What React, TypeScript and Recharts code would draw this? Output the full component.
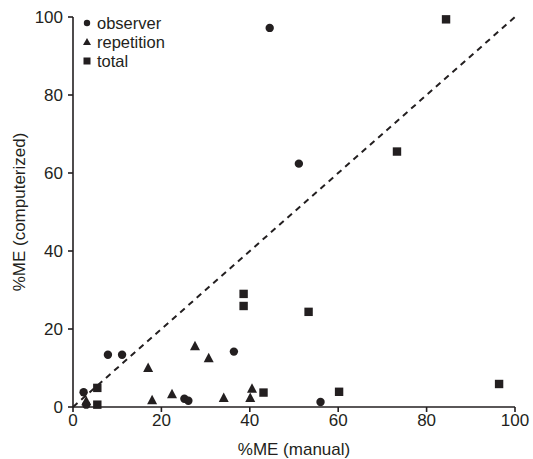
import React from "react";
import {
  ScatterChart,
  Scatter,
  XAxis,
  YAxis,
  ReferenceLine,
} from "recharts";

// values: [%ME manual, %ME computerized]
const observerX = [2.4, 3.0, 7.9, 11.1, 25.2, 26.1, 36.4, 44.5, 51.1, 56.0];
const observerY = [3.8, 0.6, 13.4, 13.4, 2.1, 1.6, 14.2, 97.2, 62.4, 1.3];

const repetitionX = [3.0, 17.0, 17.9, 22.4, 27.6, 30.7, 34.1, 40.1, 40.5];
const repetitionY = [1.5, 10.0, 1.7, 3.3, 15.6, 12.5, 2.3, 2.3, 4.7];

const totalX = [5.5, 5.5, 38.6, 38.6, 43.1, 53.3, 60.2, 73.3, 84.4, 96.4];
const totalY = [0.6, 4.9, 25.9, 29.0, 3.7, 24.4, 3.9, 65.5, 99.4, 5.9];

const ticks = [0, 20, 40, 60, 80, 100];
const seriesNames = ["observer", "repetition", "total"];

const ink = "#231f20";
const font = "'Liberation Sans', Arial, sans-serif";

const toPoints = (xs: number[], ys: number[]) =>
  xs.map((x, i) => ({ x, y: ys[i] }));

const CircleDot = (p: any) => <circle cx={p.cx} cy={p.cy} r={4.2} fill={ink} />;
const TriDot = (p: any) => (
  <polygon
    points={`${p.cx},${p.cy - 5.5} ${p.cx - 5},${p.cy + 4} ${p.cx + 5},${p.cy + 4}`}
    fill={ink}
  />
);
const SquareDot = (p: any) => (
  <rect x={p.cx - 4.2} y={p.cy - 4.2} width={8.4} height={8.4} fill={ink} />
);

// legend drawn as an overlay so it doesn't eat into the plot area
const LegendBox = () => (
  <svg
    width={160}
    height={70}
    style={{ position: "absolute", left: 80, top: 10 }}
  >
    {seriesNames.map((name, i) => {
      const cy = 13 + i * 19;
      return (
        <g key={name}>
          {i === 0 && <circle cx={7} cy={cy} r={3.2} fill={ink} />}
          {i === 1 && <polygon points={`7,${cy - 4} 3,${cy + 3} 11,${cy + 3}`} fill={ink} />}
          {i === 2 && <rect x={3.5} y={cy - 3.5} width={7} height={7} fill={ink} />}
          <text x={17} y={cy + 5.5} fill={ink} fontSize={16.5} fontFamily={font}>
            {name}
          </text>
        </g>
      );
    })}
  </svg>
);

export default function App() {
  const tickStyle = { fill: ink, fontSize: 17, fontFamily: font };
  return (
    <div style={{ position: "absolute", left: 0, top: 0, background: "#fff" }}>
      <ScatterChart
        width={533}
        height={459}
        margin={{ top: 17, right: 18, bottom: 0, left: 0 }}
      >
        <XAxis
          type="number"
          dataKey="x"
          domain={[0, 100]}
          ticks={ticks}
          height={52}
          stroke={ink}
          strokeWidth={1.6}
          tickSize={5}
          tick={tickStyle}
          label={{
            value: "%ME (manual)",
            position: "insideBottom",
            offset: 4,
            style: { ...tickStyle, textAnchor: "middle" },
          }}
        />
        <YAxis
          type="number"
          dataKey="y"
          domain={[0, 100]}
          ticks={ticks}
          width={73}
          stroke={ink}
          strokeWidth={1.6}
          tickSize={5}
          tickMargin={5}
          tick={tickStyle}
          label={{
            value: "%ME (computerized)",
            angle: -90,
            position: "center",
            dx: -18,
            style: { ...tickStyle, textAnchor: "middle" },
          }}
        />
        <ReferenceLine
          segment={[{ x: 0, y: 0 }, { x: 100.4, y: 100.4 }]}
          stroke={ink}
          strokeWidth={2}
          strokeDasharray="6 5"
          ifOverflow="visible"
        />
        <Scatter name="observer" data={toPoints(observerX, observerY)} shape={CircleDot} isAnimationActive={false} />
        <Scatter name="repetition" data={toPoints(repetitionX, repetitionY)} shape={TriDot} isAnimationActive={false} />
        <Scatter name="total" data={toPoints(totalX, totalY)} shape={SquareDot} isAnimationActive={false} />
      </ScatterChart>
      <LegendBox />
    </div>
  );
}
